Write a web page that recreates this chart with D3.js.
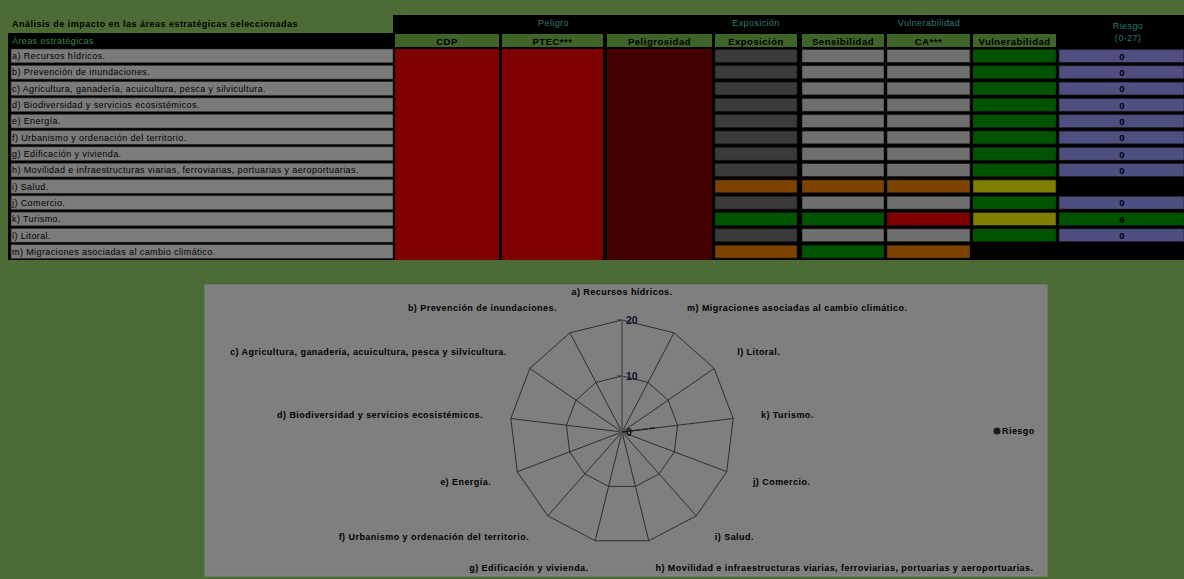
<!DOCTYPE html>
<html>
<head>
<meta charset="utf-8">
<script src="https://cdn.jsdelivr.net/npm/d3@7"></script>
<style>
    body { margin: 0; background: #4c6b35; }
    svg { display: block; font-family: "Liberation Sans", Arial, sans-serif; }
</style>
</head>
<body>
<div id="visualHolder"></div>
<script>
// Datos de la tabla y del gráfico radial
const title = "Análisis de impacto en las áreas estratégicas seleccionadas"
const areas = [
    "a) Recursos hídricos.",
    "b) Prevención de inundaciones.",
    "c) Agricultura, ganadería, acuicultura, pesca y silvicultura.",
    "d) Biodiversidad y servicios ecosistémicos.",
    "e) Energía.",
    "f) Urbanismo y ordenación del territorio.",
    "g) Edificación y vivienda.",
    "h) Movilidad e infraestructuras viarias, ferroviarias, portuarias y aeroportuarias.",
    "i) Salud.",
    "j) Comercio.",
    "k) Turismo.",
    "l) Litoral.",
    "m) Migraciones asociadas al cambio climático."
]
const groupHeaders = ["Peligro", "Exposición", "Vulnerabilidad", "Riesgo"]
const subHeaders = ["CDP", "PTEC***", "Peligrosidad", "Exposición", "Sensibilidad", "CA***", "Vulnerabilidad"]

// niveles: 0 sin dato, 1 bajo, 2 medio, 3 alto, 4 muy alto
const exposicion     = [0, 0, 0, 0, 0, 0, 0, 0, 3, 0, 1, 0, 3]
const sensibilidad   = [0, 0, 0, 0, 0, 0, 0, 0, 3, 0, 1, 0, 1]
const capacidad      = [0, 0, 0, 0, 0, 0, 0, 0, 3, 0, 4, 0, 3]
const vulnerabilidad = [1, 1, 1, 1, 1, 1, 1, 1, 2, 1, 2, 1, null]
const riesgo         = [0, 0, 0, 0, 0, 0, 0, 0, null, 0, 6, 0, null]
const radarTicks = [0, 10, 20]

const width = 1184
const height = 579

const levelColor = { 1: "#005400", 2: "#7f7f00", 3: "#7f4300", 4: "#800000" }
const headText = "#2f7a72"

const svg = d3.select("#visualHolder")
    .append("svg")
    .attr("width", width)
    .attr("height", height)

// ---------- tabla ----------
const rows = d3.scaleBand()
    .domain(areas)
    .range([48, 260])

// fondo negro de la tabla
svg.append("rect").attr("x", 393).attr("y", 15).attr("width", width - 393).attr("height", 245).attr("fill", "#000")
svg.append("rect").attr("x", 8).attr("y", 33).attr("width", 390).attr("height", 227).attr("fill", "#000")

svg.append("text")
    .attr("x", 12).attr("y", 27)
    .attr("font-size", "9px").attr("font-weight", "bold")
    .attr("letter-spacing", "0.48px")
    .text(title)
svg.append("text")
    .attr("x", 12).attr("y", 44)
    .attr("font-size", "9px").attr("fill", "#3c8a46")
    .attr("letter-spacing", "0.4px")
    .text("Áreas estratégicas")

svg.selectAll(".row-label")
    .data(areas)
    .enter()
    .append("rect")
    .attr("class", "row-label")
    .attr("x", 11)
    .attr("y", d => rows(d) + 1)
    .attr("width", 382)
    .attr("height", rows.bandwidth() - 2.5)
    .attr("fill", "#7b7b7b")
    .attr("stroke", "#2a2a2a")
    .attr("stroke-width", 0.6)
svg.selectAll(".row-text")
    .data(areas)
    .enter()
    .append("text")
    .attr("class", "row-text")
    .attr("x", 12)
    .attr("y", d => rows(d) + rows.bandwidth() / 2 + 3)
    .attr("font-size", "9px")
    .attr("letter-spacing", "0.4px")
    .text(d => d)

// columnas
const cols = [
    { x0: 395, x1: 499 }, { x0: 502, x1: 603 }, { x0: 607, x1: 712 },
    { x0: 715, x1: 797 }, { x0: 802, x1: 884 }, { x0: 887, x1: 970 }, { x0: 973, x1: 1056 }
]
const riskCol = { x0: 1059, x1: 1184 }

const groupPos = [
    (cols[0].x0 + cols[2].x1) / 2, (cols[3].x0 + cols[3].x1) / 2,
    (cols[4].x0 + cols[6].x1) / 2, 1128
]
svg.selectAll(".group-head")
    .data(groupHeaders)
    .enter()
    .append("text")
    .attr("class", "group-head")
    .attr("x", (d, i) => groupPos[i])
    .attr("y", (d, i) => i == 3 ? 29 : 26)
    .attr("text-anchor", "middle")
    .attr("font-size", "9px")
    .attr("letter-spacing", "0.4px")
    .attr("fill", headText)
    .text(d => d)
svg.append("text")
    .attr("x", 1128).attr("y", 41)
    .attr("text-anchor", "middle").attr("font-size", "9px").attr("fill", headText)
    .attr("letter-spacing", "0.4px")
    .text("(0-27)")

svg.selectAll(".sub-head")
    .data(subHeaders)
    .enter()
    .append("rect")
    .attr("class", "sub-head")
    .attr("x", (d, i) => cols[i].x0)
    .attr("y", 34)
    .attr("width", (d, i) => cols[i].x1 - cols[i].x0)
    .attr("height", 13)
    .attr("fill", "#3e6427")
svg.selectAll(".sub-text")
    .data(subHeaders)
    .enter()
    .append("text")
    .attr("class", "sub-text")
    .attr("x", (d, i) => (cols[i].x0 + cols[i].x1) / 2)
    .attr("y", 44.5)
    .attr("text-anchor", "middle")
    .attr("font-size", "9.5px").attr("font-weight", "bold")
    .attr("letter-spacing", "0.5px")
    .text(d => d)

// peligro: celdas combinadas
const hazardFill = ["#7f0000", "#7f0000", "#450000"]
hazardFill.forEach((c, i) => {
    svg.append("rect")
        .attr("x", cols[i].x0).attr("y", rows.range()[0] + 1)
        .attr("width", cols[i].x1 - cols[i].x0)
        .attr("height", rows.range()[1] - rows.range()[0] - 1)
        .attr("fill", c)
})

const levelCols = [
    { values: exposicion, grey: "#3b3b3b", col: cols[3] },
    { values: sensibilidad, grey: "#6f6f6f", col: cols[4] },
    { values: capacidad, grey: "#6f6f6f", col: cols[5] },
    { values: vulnerabilidad, grey: "#6f6f6f", col: cols[6] }
]
levelCols.forEach(lc => {
    svg.append("g")
        .selectAll("rect")
        .data(areas.map((a, i) => ({ area: a, v: lc.values[i] })).filter(d => d.v != null))
        .enter()
        .append("rect")
        .attr("x", lc.col.x0)
        .attr("y", d => rows(d.area) + 1.5)
        .attr("width", lc.col.x1 - lc.col.x0)
        .attr("height", rows.bandwidth() - 3.5)
        .attr("fill", d => d.v == 0 ? lc.grey : levelColor[d.v])
        .attr("stroke", "#1c1c1c")
        .attr("stroke-width", 0.6)
})

const riskData = areas.map((a, i) => ({ area: a, v: riesgo[i] })).filter(d => d.v != null)
svg.append("g")
    .selectAll("rect")
    .data(riskData)
    .enter()
    .append("rect")
    .attr("x", riskCol.x0)
    .attr("y", d => rows(d.area) + 1.5)
    .attr("width", riskCol.x1 - riskCol.x0)
    .attr("height", rows.bandwidth() - 3.5)
    .attr("fill", d => d.v == 0 ? "#4e4e80" : "#005400")
    .attr("stroke", "#1c1c1c")
    .attr("stroke-width", 0.6)
svg.append("g")
    .selectAll("text")
    .data(riskData)
    .enter()
    .append("text")
    .attr("x", 1122)
    .attr("y", d => rows(d.area) + rows.bandwidth() / 2 + 3.5)
    .attr("text-anchor", "middle")
    .attr("font-size", "9.5px").attr("font-weight", "bold")
    .text(d => d.v)

// ---------- gráfico radial ----------
svg.append("rect")
    .attr("x", 205).attr("y", 285).attr("width", 842).attr("height", 291)
    .attr("fill", "#7f7f7f")
    .attr("stroke", "#8a8a8a")

const cx = 622, cy = 432
const r = d3.scaleLinear().domain([0, 20]).range([0, 112])
const n = areas.length
const angle = i => -i * 2 * Math.PI / n
const pt = (i, v) => [cx + r(v) * Math.sin(angle(i)), cy - r(v) * Math.cos(angle(i))]

const radar = svg.append("g")
radar.selectAll(".ring")
    .data(radarTicks.filter(t => t > 0))
    .enter()
    .append("path")
    .attr("class", "ring")
    .attr("d", t => d3.line()(areas.map((a, i) => pt(i, t))) + "Z")
    .attr("fill", "none")
    .attr("stroke", "#2e2e2e")
    .attr("stroke-width", 1)
radar.selectAll(".spoke")
    .data(areas.slice(1))
    .enter()
    .append("line")
    .attr("class", "spoke")
    .attr("x1", cx).attr("y1", cy)
    .attr("x2", (d, i) => pt(i + 1, 20)[0])
    .attr("y2", (d, i) => pt(i + 1, 20)[1])
    .attr("stroke", "#2e2e2e")
    .attr("stroke-width", 1)
// eje vertical con marcas
radar.append("line")
    .attr("x1", cx).attr("y1", cy).attr("x2", cx).attr("y2", cy - r(20))
    .attr("stroke", "#5a5a5a").attr("stroke-width", 2)
radar.selectAll(".tick-mark")
    .data(radarTicks.filter(t => t > 0))
    .enter()
    .append("line")
    .attr("class", "tick-mark")
    .attr("x1", cx - 5).attr("x2", cx)
    .attr("y1", t => cy - r(t)).attr("y2", t => cy - r(t))
    .attr("stroke", "#333")
radar.selectAll(".tick")
    .data(radarTicks)
    .enter()
    .append("text")
    .attr("class", "tick")
    .attr("x", cx + 4)
    .attr("y", t => cy - r(t) + 4)
    .attr("font-size", "10.5px").attr("font-weight", "bold")
    .attr("fill", "#10102a")
    .text(t => t)
radar.append("circle").attr("cx", cx).attr("cy", cy).attr("r", 4).attr("fill", "#555")

// serie Riesgo
const line = d3.line()
    .defined(d => d.v != null)
    .x(d => pt(d.i, d.v)[0])
    .y(d => pt(d.i, d.v)[1])
const series = riesgo.map((v, i) => ({ i: i, v: v }))
radar.append("path")
    .attr("d", line(series.concat([series[0]])))
    .attr("fill", "none")
    .attr("stroke", "#1a1a1a")
    .attr("stroke-width", 1.3)
    .attr("stroke-dasharray", "5,2")

// etiquetas de categoría
radar.selectAll(".cat")
    .data(areas)
    .enter()
    .append("text")
    .attr("class", "cat")
    .attr("x", (d, i) => cx + 140 * Math.sin(angle(i)))
    .attr("y", (d, i) => cy - 140 * Math.cos(angle(i)) + 3)
    .attr("text-anchor", (d, i) => {
        let s = Math.sin(angle(i))
        return Math.abs(s) < 0.01 ? "middle" : s < 0 ? "end" : "start"
    })
    .attr("font-size", "9px").attr("font-weight", "bold")
    .attr("letter-spacing", "0.45px")
    .text(d => d)

// leyenda
const legend = svg.append("g").attr("transform", "translate(997, 431)")
legend.append("circle").attr("r", 3.5).attr("fill", "#1a1a1a")
legend.append("text").attr("x", 5).attr("y", 3)
    .attr("font-size", "9px").attr("font-weight", "bold")
    .attr("letter-spacing", "0.45px")
    .text("Riesgo")
</script>
</body>
</html>
